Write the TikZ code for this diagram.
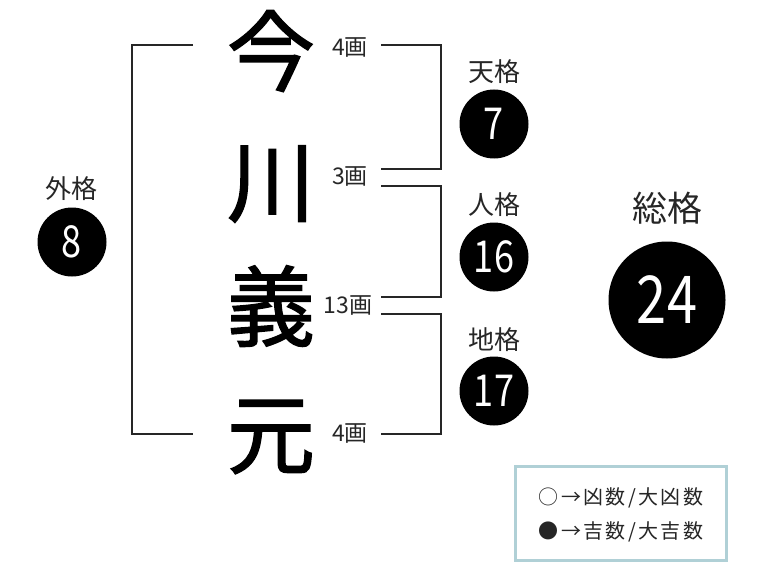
\documentclass[tikz,border=0pt]{standalone}
\usepackage{fontspec}
\usepackage{graphicx}
\setmainfont{Noto Sans CJK JP}
\newfontfamily\legfont[LetterSpace=12]{Noto Sans CJK JP}
\newfontfamily\namefont[FakeBold=1.6]{Noto Sans CJK JP}
\begin{document}
\begin{tikzpicture}[x=1pt,y=-1pt,
  bigchar/.style={inner sep=0pt,font=\fontsize{88}{88}\namefont},
  stroke/.style={inner sep=0pt,font=\fontsize{23}{23}\selectfont,text=black!85},
  kaku/.style={inner sep=0pt,font=\fontsize{26}{26}\selectfont,text=black!85},
  dot/.style={circle,fill=black,text=white,inner sep=0pt,minimum size=69pt,font=\fontsize{44}{44}\selectfont},
  bigdot/.style={circle,fill=black,text=white,inner sep=0pt,minimum size=117pt,font=\fontsize{66}{66}\selectfont},
  bracket/.style={draw=black!85,line width=1.6pt},
  legendbox/.style={draw={rgb,255:red,176;green,208;blue,214},line width=3pt,minimum width=211pt,minimum height=94pt,inner sep=0pt},
  legendtext/.style={inner sep=0pt,font=\fontsize{20}{20}\legfont,text=black!85}]
\useasboundingbox (0,0) rectangle (768,575);

% big name characters
\node[bigchar] (c1) at (271,51) {今};
\node[bigchar] (c2) at (271,184) {川};
\node[bigchar] (c3) at (271,306) {義};
\node[bigchar] (c4) at (271,437) {元};

% stroke counts
\node[stroke] (s1) at (350,48) {4画};
\node[stroke] (s2) at (350,177) {3画};
\node[stroke] (s3) at (348,306) {13画};
\node[stroke] (s4) at (350,434) {4画};

% left bracket (gaikaku)
\coordinate (l1) at (193,45);
\coordinate (l2) at (132,45);
\coordinate (l3) at (132,434);
\coordinate (l4) at (193,434);
\draw[bracket] (l1) -- (l2) -- (l3) -- (l4);

% right brackets
\coordinate (a1) at (381,45);
\coordinate (a2) at (441,45);
\coordinate (a3) at (441,169);
\coordinate (a4) at (381,169);
\draw[bracket] (a1) -- (a2) -- (a3) -- (a4);
\coordinate (b1) at (381,186);
\coordinate (b2) at (441,186);
\coordinate (b3) at (441,297);
\coordinate (b4) at (381,297);
\draw[bracket] (b1) -- (b2) -- (b3) -- (b4);
\coordinate (d1) at (381,314);
\coordinate (d2) at (441,314);
\coordinate (d3) at (441,434);
\coordinate (d4) at (381,434);
\draw[bracket] (d1) -- (d2) -- (d3) -- (d4);

% kaku labels and circles
\node[kaku] (tenl) at (494,72) {天格};
\node[dot] (ten) at (494,124) {\scalebox{0.82}[1]{7}};
\node[kaku] (jinl) at (494,205) {人格};
\node[dot] (jin) at (494,257) {\scalebox{0.82}[1]{16}};
\node[kaku] (chil) at (494,340) {地格};
\node[dot] (chi) at (494,391) {\scalebox{0.82}[1]{17}};
\node[kaku] (gail) at (71,189) {外格};
\node[dot] (gai) at (72,242) {\scalebox{0.82}[1]{8}};
\node[kaku,font=\fontsize{35}{35}\selectfont] (soul) at (667,208) {総格};
\node[bigdot] (sou) at (667,300) {\scalebox{0.82}[1]{24}};

% legend
\node[legendbox] (leg) at (621,513.5) {};
\node[legendtext] (leg1) at (621,498) {○→凶数/大凶数};
\node[legendtext] (leg2) at (621,532) {●→吉数/大吉数};
\end{tikzpicture}
\end{document}
